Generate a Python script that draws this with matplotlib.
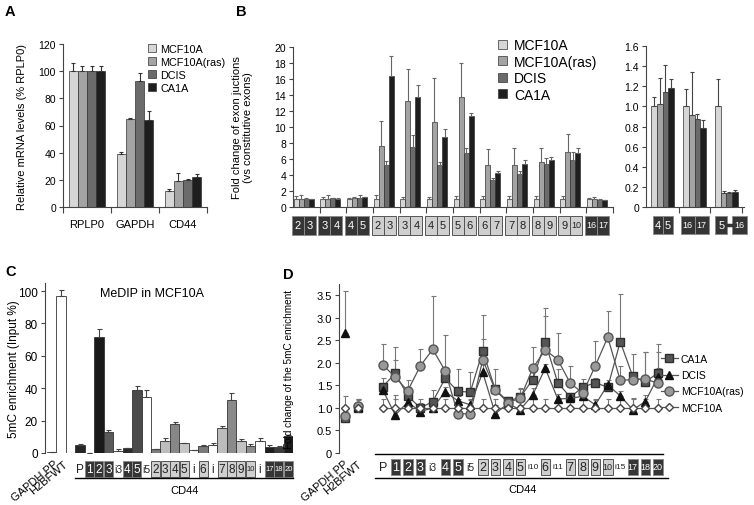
import numpy as np
import matplotlib
matplotlib.use('Agg')
import matplotlib.pyplot as plt
from matplotlib.patches import Rectangle, Patch
from matplotlib.lines import Line2D
from matplotlib.ticker import FuncFormatter
from matplotlib.transforms import blended_transform_factory, ScaledTranslation

plt.rcParams['font.family'] = ['Liberation Sans', 'DejaVu Sans']

# ---------------- data ----------------
cells = ['MCF10A', 'MCF10A(ras)', 'DCIS', 'CA1A']
cell_colors = ['#d6d6d6', '#a3a3a3', '#6b6b6b', '#1e1e1e']

# panel A
a_genes = ['RPLP0', 'GAPDH', 'CD44']
a_vals = [[100, 39, 11.5], [100, 65, 19], [100, 92.5, 20], [100, 64, 22]]
a_err = [[6, 1.5, 1.5], [4, 0.5, 6], [4, 6, 0.5], [4, 7, 2]]

# panel B (left)
b_left_junctions = [('2', '3'), ('3', '4'), ('4', '5'), ('2', '3'), ('3', '4'), ('4', '5'),
                    ('5', '6'), ('6', '7'), ('7', '8'), ('8', '9'), ('9', '10'), ('16', '17')]
b_left_constitutive = [True, True, True, False, False, False, False, False, False, False, False, True]
b_left_vals = [[1, 1, 1, 1, 1, 1, 1, 1, 1, 1, 1, 1],
               [1.0, 1.05, 1.15, 7.6, 13.2, 10.6, 13.7, 5.2, 5.3, 5.6, 6.9, 0.95],
               [1.0, 1.1, 1.15, 5.2, 7.5, 5.2, 6.8, 3.4, 4.1, 5.4, 5.9, 0.9],
               [0.95, 1.05, 1.2, 16.4, 13.7, 8.7, 11.4, 4.3, 5.4, 5.9, 6.75, 0.85]]
b_left_err = [[0.4, 0.3, 0.1, 0.5, 0.3, 0.3, 0.4, 0.4, 0.4, 0.35, 0.35, 0.1],
              [0.5, 0.45, 0.1, 3.1, 4.0, 5.5, 4.3, 2.1, 2.1, 1.8, 2.2, 0.3],
              [0.1, 0.05, 0.3, 0.6, 1.5, 0.4, 0.6, 0.2, 0.4, 0.7, 1.0, 0.05],
              [0.05, 0.05, 0.05, 2.5, 1.5, 1.1, 0.4, 0.2, 0.5, 0.35, 0.6, 0.05]]

# panel B (right)
b_right_junctions = [('4', '5'), ('16', '17'), ('5', '16')]
b_right_vals = [[1.0, 1.0, 1.0], [1.02, 0.91, 0.14], [1.14, 0.87, 0.14], [1.18, 0.79, 0.15]]
b_right_err = [[0.09, 0.17, 0.27], [0.26, 0.43, 0.02], [0.27, 0.05, 0.01], [0.09, 0.07, 0.02]]

# panel C
controls = ['GAPDH PP', 'H2BFWT']
c_control_vals = [0.5, 97]
c_control_err = [0, 3.5]
c_control_colors = ['#9a9a9a', '#ffffff']
c_regions = ['P', '1', '2', '3', 'i3', '4', '5', 'i5', '2', '3', '4', '5', 'i', '6', 'i',
             '7', '8', '9', '10', 'i', '17', '18', '20']
region_kind = ['txt', 'dark', 'dark', 'dark', 'txt', 'dark', 'dark', 'txt', 'light', 'light', 'light',
               'light', 'txt', 'light', 'txt', 'light', 'light', 'light', 'light', 'txt', 'dark', 'dark', 'dark']
c_vals = [5, 0.3, 71.5, 13, 1.5, 3, 39, 34.5, 2.2, 7.5, 18, 6, 2, 4.5, 5, 15.5, 32.5, 7.5, 4.5, 7.5, 3.5, 4, 10.5]
c_err = [0.5, 0, 5, 1.5, 1, 0.3, 2.5, 4.5, 0, 2, 1.3, 0.3, 0, 0.3, 1.2, 1.2, 4.7, 1.2, 1.2, 1.8, 1.5, 0.3, 0.7]
c_colors = ['#262626', '#262626', '#1a1a1a', '#5a5a5a', '#ffffff', '#2b2b2b', '#4a4a4a', '#ffffff',
            '#7d7d7d', '#bdbdbd', '#878787', '#c6c6c6', '#ffffff', '#7a7a7a', '#ffffff', '#bcbcbc',
            '#8a8a8a', '#c2c2c2', '#8c8c8c', '#ffffff', '#1f1f1f', '#3c3c3c', '#1c1c1c']

# panel D
d_regions = ['P', '1', '2', '3', 'i3', '4', '5', 'i5', '2', '3', '4', '5', 'i10', '6', 'i11',
             '7', '8', '9', '10', 'i15', '17', '18', '20']
d_series = ['CA1A', 'DCIS', 'MCF10A(ras)', 'MCF10A']
d_ctrl_vals = [[0.77, 1.0], [2.67, 1.03], [0.83, 1.05], [1.0, 1.0]]
d_ctrl_err = [[0.05, 0.1], [0.93, 0.15], [0.1, 0.15], [0.27, 0.2]]
d_ca1a = [1.47, 1.77, 1.27, 1.0, 1.14, 1.66, 1.37, 1.35, 2.26, 1.41, 1.15, 1.24, 1.63, 2.46, 1.56,
          1.24, 1.46, 1.56, 1.46, 2.47, 1.70, 1.58, 1.77]
d_dcis = [1.40, 0.84, 1.13, 0.92, 1.0, 1.36, 1.16, 1.07, 1.79, 0.87, 1.10, 0.96, 1.29, 1.88, 1.20,
          1.21, 1.26, 1.07, 1.51, 1.27, 0.96, 1.14, 1.68]
d_ras = [1.96, 1.68, 1.38, 1.93, 2.30, 1.82, 0.87, 0.87, 2.07, 1.40, 1.12, 1.21, 1.88, 2.29, 2.07,
         1.55, 1.33, 1.93, 2.57, 1.61, 1.63, 1.64, 1.55]
d_mcf = [1.0] * 23
d_ca1a_err = [0.2, 0.3, 0.2, 0.1, 0.25, 0.2, 0.5, 0.45, 0.8, 0.45, 0.1, 0.2, 0.2, 0.75, 0.3,
              0.1, 0.18, 0.1, 0.1, 1.06, 0.5, 0.67, 0.65]
d_dcis_err = [0.15, 0.45, 0.1, 0.1, 0.1, 0.1, 0.1, 0.1, 0.3, 0.2, 0.1, 0.1, 0.15, 0.1, 0.1,
              0.1, 0.1, 0.1, 0.1, 0.1, 0.25, 0.15, 0.2]
d_ras_err = [0.46, 0.67, 0.25, 0.38, 1.18, 0.8, 0.1, 0.1, 0.45, 0.1, 0.1, 0.2, 0.47, 0.75, 0.6,
             0.38, 0.1, 0.55, 0.57, 0.33, 0.1, 0.6, 0.7]
d_mcf_err = [0.2] * 23

# ---------------- layout helpers ----------------
W, H = 754, 506
fig = plt.figure(figsize=(W / 100, H / 100), dpi=100)


def px_axes(l, t, r, b):
    return fig.add_axes([l / W, 1 - b / H, (r - l) / W, (b - t) / H])


def px_per_unit(ax):
    x0, x1 = ax.get_xlim()
    return ax.get_position().width * W / (x1 - x0)


def style(ax, bottom=True):
    ax.spines['top'].set_visible(False)
    ax.spines['right'].set_visible(False)
    ax.spines['bottom'].set_visible(bottom)
    for s in ax.spines.values():
        s.set_color('#444444')
        s.set_linewidth(0.8)
    ax.tick_params(labelsize=7.5, length=3, width=0.8, color='#444444', pad=2)


def ylabel_at(ax, text, xpx, fs=8):
    pos = ax.get_position()
    ax.set_ylabel(text, fontsize=fs, linespacing=1.1)
    ax.yaxis.set_label_coords((xpx / W - pos.x0) / pos.width, 0.5)


def box(ax, x, ypx, lab, kind, wpx, hpx, fs, dxpx=0):
    trans = blended_transform_factory(ax.transData, fig.transFigure)
    u = px_per_unit(ax)
    xc = x + dxpx / u
    yc = 1 - ypx / H
    if kind == 'txt':
        ax.text(xc, yc, lab, transform=trans, ha='center', va='center', fontsize=fs,
                color='#222222', clip_on=False)
        return
    if kind == 'dark':
        fc, ec, tc = '#353535', '#8c8c8c', 'white'
    else:
        fc, ec, tc = '#cfcfcf', '#555555', '#222222'
    ax.add_patch(Rectangle((xc - wpx / 2 / u, yc - hpx / 2 / H), wpx / u, hpx / H, transform=trans,
                           facecolor=fc, edgecolor=ec, linewidth=0.7, clip_on=False))
    ax.text(xc, yc, lab, transform=trans, ha='center', va='center', fontsize=fs, color=tc, clip_on=False)


def grouped(ax, vals, errs, width, ecolor):
    n = len(vals[0])
    x = np.arange(n)
    for k in range(4):
        off = (k - 1.5) * width
        ax.bar(x + off, vals[k], width, color=cell_colors[k], edgecolor='#333333', linewidth=0.5, zorder=2)
        ax.errorbar(x + off, vals[k], yerr=[np.zeros(n), errs[k]], fmt='none', ecolor=ecolor,
                    elinewidth=0.8, capsize=1.6, capthick=0.8, zorder=3)


def control_labels(ax, dxpx):
    ax.set_xticks([0, 1], controls, rotation=40, ha='right', va='center', rotation_mode='anchor', fontsize=8)
    ax.tick_params(axis='x', length=0, pad=3)
    for lbl in ax.get_xticklabels():
        lbl.set_transform(lbl.get_transform() + ScaledTranslation(dxpx / 100, -5 / 100, fig.dpi_scale_trans))


# ---------------- panel A ----------------
axA = px_axes(63, 45, 207, 208)
grouped(axA, a_vals, a_err, 0.19, '#333333')
axA.set_xlim(-0.5, 2.5)
axA.set_ylim(0, 120)
axA.set_yticks(range(0, 121, 20))
style(axA)
axA.set_xticks(np.arange(3), a_genes)
axA.set_xticks(np.arange(-0.5, 3, 1), minor=True)
axA.tick_params(axis='x', which='major', length=0, labelsize=8, pad=9)
axA.tick_params(axis='x', which='minor', length=4, width=0.8, color='#444444')
ylabel_at(axA, 'Relative mRNA levels (% RPLP0)', 27)
handles = [Patch(facecolor=c, edgecolor='#333333', linewidth=0.5) for c in cell_colors]
fig.legend(handles, cells, loc='upper left', bbox_to_anchor=(148 / W, 1 - 45 / H), frameon=False,
           fontsize=7.8, handlelength=0.75, handleheight=0.75, handletextpad=0.4, labelspacing=0.27,
           borderpad=0, borderaxespad=0)

# ---------------- panel B left ----------------
axB = px_axes(293, 48, 613, 208)
grouped(axB, b_left_vals, b_left_err, 0.19, '#666666')
axB.set_xlim(-0.4, 11.6)
axB.set_ylim(0, 20)
axB.set_yticks(range(0, 21, 2))
style(axB)
axB.set_xticks([])
axB.set_xticks(np.arange(0.6, 12, 1), minor=True)
axB.tick_params(axis='x', which='minor', length=4, width=0.8, color='#444444')
ylabel_at(axB, 'Fold change of exon juctions\n(vs constitutive exons)', 253)
for i, (j, cons) in enumerate(zip(b_left_junctions, b_left_constitutive)):
    kind = 'dark' if cons else 'light'
    for lab, d in zip(j, (-6, 6)):
        box(axB, i, 226, lab, kind, 12, 19, 8 if len(lab) == 1 else 6.5, d)
fig.legend(handles, cells, loc='upper left', bbox_to_anchor=(498 / W, 1 - 39 / H), frameon=False,
           fontsize=10, handlelength=0.62, handleheight=0.62, handletextpad=0.55, labelspacing=0.18,
           borderpad=0, borderaxespad=0)

# ---------------- panel B right ----------------
axR = px_axes(646, 47, 744, 208)
grouped(axR, b_right_vals, b_right_err, 0.18, '#444444')
axR.set_xlim(-0.52, 2.55)
axR.set_ylim(0, 1.6)
axR.set_yticks(np.arange(0, 1.61, 0.2))
axR.yaxis.set_major_formatter(FuncFormatter(lambda v, _: '0' if abs(v) < 1e-9 else f'{v:.1f}'))
style(axR)
axR.set_xticks([])
axR.set_xticks([0.5, 1.5, 2.5], minor=True)
axR.tick_params(axis='x', which='minor', length=4, width=0.8, color='#444444')
r_offsets = [(-5, 5), (-7, 7), (-5, 13)]
r_widths = [(10, 10), (14, 14), (12, 15)]
for i, j in enumerate(b_right_junctions):
    for lab, d, w in zip(j, r_offsets[i], r_widths[i]):
        box(axR, i, 226, lab, 'dark', w, 18, 8 if len(lab) == 1 else 6.5, d)
trR = blended_transform_factory(axR.transData, fig.transFigure)
uR = px_per_unit(axR)
axR.plot([2 + 1 / uR, 2 + 5.5 / uR], [1 - 226 / H] * 2, color='#353535', lw=2.5,
         transform=trR, clip_on=False)

# ---------------- panel C ----------------
axC = px_axes(45, 284, 293, 454)
xc_ctrl = np.arange(len(controls))
xc = np.arange(3, 3 + len(c_regions))
axC.bar(xc_ctrl, c_control_vals, 1.0, color=c_control_colors, edgecolor='#333333', linewidth=0.6, zorder=2)
axC.errorbar(xc_ctrl, c_control_vals, yerr=[np.zeros(2), c_control_err], fmt='none', ecolor='#444444',
             elinewidth=0.8, capsize=1.8, capthick=0.8, zorder=3)
axC.bar(xc, c_vals, 1.0, color=c_colors, edgecolor='#333333', linewidth=0.6, zorder=2)
axC.errorbar(xc, c_vals, yerr=[np.zeros(len(xc)), c_err], fmt='none', ecolor='#444444',
             elinewidth=0.8, capsize=1.8, capthick=0.8, zorder=3)
axC.set_xlim(-0.7, 25.5)
axC.set_ylim(0, 105)
axC.set_yticks(range(0, 101, 20))
style(axC, bottom=False)
axC.tick_params(axis='y', labelsize=8.5)
control_labels(axC, 5)
ylabel_at(axC, '5mC enrichment (Input %)', 20, fs=8.5)
axC.text(0.43, 0.94, 'MeDIP in MCF10A', transform=axC.transAxes, ha='center', va='center', fontsize=9)
for x, lab, kind in zip(xc, c_regions, region_kind):
    if kind == 'txt':
        fs = 8.5 if len(lab) == 1 else 7.5
    else:
        fs = 8.5 if len(lab) == 1 else 5.5
    box(axC, x, 470, lab, kind, 9, 16, fs)
trC = blended_transform_factory(axC.transData, fig.transFigure)
axC.plot([2.5, 25.5], [1 - 479 / H] * 2, color='black', lw=1, transform=trC, clip_on=False)
axC.text(14, 1 - 491 / H, 'CD44', transform=trC, ha='center', va='center', fontsize=8)

# ---------------- panel D ----------------
axD = px_axes(339, 285, 664, 454)
xd = np.arange(3, 3 + len(d_regions))
series_vals = [d_ca1a, d_dcis, d_ras, d_mcf]
series_err = [d_ca1a_err, d_dcis_err, d_ras_err, d_mcf_err]
markers = [dict(marker='s', markersize=6, markerfacecolor='#555555', markeredgecolor='#2e2e2e'),
           dict(marker='^', markersize=5.5, markerfacecolor='#111111', markeredgecolor='#111111'),
           dict(marker='o', markersize=6.5, markerfacecolor='#999999', markeredgecolor='#555555'),
           dict(marker='D', markersize=4, markerfacecolor='white', markeredgecolor='#444444')]
for k in range(4):
    axD.errorbar(xd, series_vals[k], yerr=[np.zeros(len(xd)), series_err[k]], fmt='none',
                 ecolor='#777777', elinewidth=0.8, capsize=1.8, capthick=0.8, zorder=1)
    axD.errorbar([0, 1], d_ctrl_vals[k], yerr=[np.zeros(2), d_ctrl_err[k]], fmt='none',
                 ecolor='#777777', elinewidth=0.8, capsize=1.8, capthick=0.8, zorder=1)
for k in [3, 0, 2, 1]:
    axD.plot(xd, series_vals[k], color='#555555', lw=0.9, zorder=2 + k * 0.1, **markers[k])
    axD.plot([0, 1], d_ctrl_vals[k], lw=0, zorder=2 + k * 0.1, **markers[k])
axD.set_xlim(-0.5, 25.5)
axD.set_ylim(0, 3.75)
axD.set_yticks(np.arange(0, 3.51, 0.5))
axD.yaxis.set_major_formatter(FuncFormatter(lambda v, _: '0' if abs(v) < 1e-9 else f'{v:.1f}'))
style(axD, bottom=False)
axD.tick_params(axis='y', labelsize=8)
control_labels(axD, 2)
ylabel_at(axD, 'Fold change of the 5mC enrichment', 294, fs=7.2)
for x, lab, kind in zip(xd, d_regions, region_kind):
    if kind == 'txt':
        fs = 9 if len(lab) == 1 else (7.5 if len(lab) == 2 else 6)
    else:
        fs = 9 if len(lab) == 1 else 6.5
    box(axD, x, 468, lab, kind, 9.5, 16, fs)
trD = blended_transform_factory(axD.transData, fig.transFigure)
axD.plot([2.4, 25.4], [1 - 455 / H] * 2, color='black', lw=1, transform=trD, clip_on=False)
axD.plot([2.4, 25.8], [1 - 479 / H] * 2, color='black', lw=1, transform=trD, clip_on=False)
axD.text(14.2, 1 - 490 / H, 'CD44', transform=trD, ha='center', va='center', fontsize=8)
d_handles = [Line2D([], [], color='#555555', lw=0.9, **m) for m in markers]
fig.legend(d_handles, d_series, loc='upper left', bbox_to_anchor=(661 / W, 1 - 355 / H), frameon=False,
           fontsize=7.5, handlelength=1.6, handletextpad=0.3, labelspacing=0.6,
           borderpad=0, borderaxespad=0)

# ---------------- panel letters ----------------
for lab, x, y in [('A', 5, 12), ('B', 236, 12), ('C', 5, 272), ('D', 283, 275)]:
    fig.text(x / W, 1 - y / H, lab, fontsize=10.5, fontweight='bold', ha='left', va='center')

fig.savefig('out.png', dpi=100)
